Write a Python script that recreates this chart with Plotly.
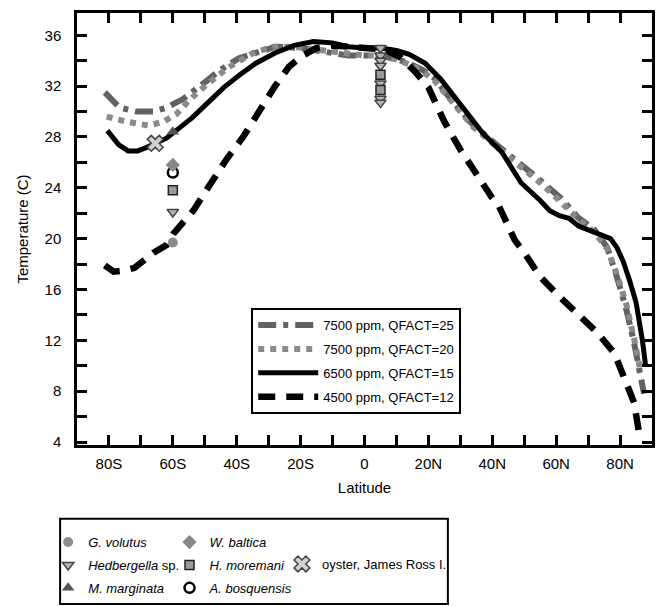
import plotly.graph_objects as go

# ---- model curves (latitude in degrees, south negative) ----
lat_q25 = [-81.3, -76.6, -71.3, -66, -62, -56.7, -50.5, -45.5, -39.3, -31.8, -27.7, -20, -15, -10, -5, 0, 5, 10, 13, 18, 22, 26, 30, 33.4, 40.8, 49, 55, 61.4, 66.7, 72, 76, 79, 82, 84.4, 86, 87.5]
t_q25 = [31.5, 30.3, 30.0, 30.0, 30.3, 31.0, 32.2, 33.2, 34.2, 34.8, 35.1, 35.0, 34.8, 34.6, 34.4, 34.4, 34.4, 34.1, 33.9, 33.3, 32.6, 31.3, 30.2, 29.1, 27.5, 25.9, 24.6, 23.2, 21.7, 20.7, 19.3, 17.0, 14.4, 11.8, 9.7, 7.8]

lat_q20 = [-80.7, -74.5, -67.6, -62.9, -58.9, -54.8, -49.5, -42.4, -34.9, -28.7, -22, -15, -10, -5, 0, 5, 10, 14, 18, 22, 26, 30, 34, 41, 49, 55, 61, 67, 72, 76, 79, 82, 84.5, 86.5]
t_q20 = [29.6, 29.2, 28.9, 29.2, 29.8, 30.9, 32.1, 33.5, 34.6, 35.1, 35.1, 34.9, 34.7, 34.5, 34.4, 34.4, 34.1, 33.7, 33.2, 32.4, 31.2, 30.0, 28.8, 27.3, 25.7, 24.4, 23.0, 21.5, 20.5, 19.2, 17.2, 14.8, 12.0, 9.5]

lat_q15 = [-80.5, -77, -74, -71, -68, -65.5, -62, -59, -54, -49, -44, -39, -34, -28, -22, -16, -10, -5, 0, 5, 10, 14, 19, 24, 28, 32, 37, 43, 49, 55, 58, 61, 64, 67, 70, 72, 74, 77, 79, 81, 83, 85, 87, 88]
t_q15 = [28.5, 27.4, 26.9, 26.9, 27.2, 27.5, 27.9, 28.5, 29.5, 30.7, 31.9, 32.9, 33.8, 34.6, 35.2, 35.5, 35.4, 35.1, 35.0, 35.0, 34.8, 34.5, 33.8, 32.5, 31.2, 30.0, 28.3, 26.8, 24.4, 23.0, 22.2, 21.8, 21.6, 21.0, 20.7, 20.4, 20.3, 20.0, 19.3, 18.2, 16.7, 15.0, 12.0, 10.0]

lat_q12 = [-81.3, -78.5, -75, -72, -69, -66, -62, -59.8, -56, -53.6, -49, -43.3, -38, -33, -28, -23.7, -20, -15, -10, -5, 0, 6, 11, 16, 20, 25, 30, 35, 40, 42, 47, 50, 55, 60.4, 66.7, 72.9, 78.2, 81.3, 84.4, 86.3]
t_q12 = [17.9, 17.4, 17.5, 17.7, 18.3, 18.9, 19.5, 20.4, 21.5, 22.2, 24.0, 26.2, 28.0, 30.1, 32.0, 33.5, 34.3, 35.0, 35.2, 35.1, 35.0, 34.9, 34.3, 33.1, 31.9, 29.2, 27.0, 25.0, 23.2, 22.6, 19.9, 18.9, 17.0, 15.6, 14.1, 12.6, 11.0, 9.1, 7.1, 4.2]

# ---- proxy data ----
gvol_lat = [-60]; gvol_t = [19.7]
hedb_lat = [-60, 5, 5, 5, 5, 5, 5, 5]; hedb_t = [22.1, 35.0, 34.4, 34.0, 33.6, 32.2, 31.0, 30.7]
mmar_lat = [-60]; mmar_t = [28.4]
abos_lat = [-60]; abos_t = [25.2]
wbal_lat = [-60]; wbal_t = [25.8]
hmor_lat = [-60, 5, 5]; hmor_t = [23.8, 32.9, 31.7]
oyst_lat = [-65.5]; oyst_t = [27.5]

x_tickvals = [-80, -70, -60, -50, -40, -30, -20, -10, 0, 10, 20, 30, 40, 50, 60, 70, 80]
x_ticktext = ["80S", "", "60S", "", "40S", "", "20S", "", "0", "", "20N", "", "40N", "", "60N", "", "80N"]
y_tickvals = list(range(4, 37, 2))
y_ticktext = [str(v) if v % 4 == 0 else "" for v in y_tickvals]

FONT = "Liberation Sans, Arial, sans-serif"

fig = go.Figure()

curves = [
    (lat_q25, t_q25, "7500 ppm, QFACT=25", "#626262", 6, "18px,7px,5px,7px", 1),
    (lat_q20, t_q20, "7500 ppm, QFACT=20", "#8a8a8a", 6, "6px,6px", 2),
    (lat_q12, t_q12, "4500 ppm, QFACT=12", "#000000", 6.5, "17px,11px", 4),
    (lat_q15, t_q15, "6500 ppm, QFACT=15", "#000000", 5, "solid", 3),
]
for lx, ty, name, col, w, dash, rank in curves:
    fig.add_trace(go.Scatter(
        x=lx, y=ty, mode="lines", name=name, legend="legend",
        legendgroup=name, legendrank=rank,
        line=dict(color=col, width=w, dash=dash),
    ))

markers = [
    (gvol_lat, gvol_t, "<i>G. volutus</i>", "legend2", 1,
     dict(symbol="circle", size=10, color="#8c8c8c", line=dict(color="#8c8c8c", width=0))),
    (hedb_lat, hedb_t, "<i>Hedbergella</i> sp.", "legend2", 2,
     dict(symbol="triangle-down", size=10, color="#b4b4b4", line=dict(color="#444444", width=1.5))),
    (mmar_lat, mmar_t, "<i>M. marginata</i>", "legend2", 3,
     dict(symbol="triangle-up", size=11, color="#555555", line=dict(color="#555555", width=0))),
    (abos_lat, abos_t, "<i>A. bosquensis</i>", "legend3", 3,
     dict(symbol="circle", size=10, color="#ffffff", line=dict(color="#000000", width=2.5))),
    (wbal_lat, wbal_t, "<i>W. baltica</i>", "legend3", 1,
     dict(symbol="diamond", size=11, color="#888888", line=dict(color="#888888", width=0))),
    (hmor_lat, hmor_t, "<i>H. moremani</i>", "legend3", 2,
     dict(symbol="square", size=9, color="#9a9a9a", line=dict(color="#222222", width=1.5))),
    (oyst_lat, oyst_t, "oyster, James Ross I.", "legend4", 1,
     dict(symbol="x", size=14, color="#d0d0d0", line=dict(color="#444444", width=1.5))),
]
for lx, ty, name, lg, rank, mk in markers:
    fig.add_trace(go.Scatter(
        x=lx, y=ty, mode="markers", name=name, legend=lg,
        legendgroup=name, legendrank=rank, marker=mk,
    ))

axis_common = dict(
    showline=True, linecolor="black", linewidth=2.5, mirror="ticks",
    ticks="inside", ticklen=10, tickwidth=2.5, tickcolor="black",
    showgrid=False, zeroline=False,
    tickfont=dict(family=FONT, size=15, color="black"),
)

fig.update_layout(
    width=657, height=606,
    margin=dict(l=77, r=2, t=13, b=161),
    paper_bgcolor="white", plot_bgcolor="white",
    font=dict(family=FONT, color="black"),
    xaxis=dict(range=[-90, 90], tickmode="array", tickvals=x_tickvals, ticktext=x_ticktext,
               title=dict(text="Latitude", font=dict(family=FONT, size=15), standoff=12),
               ticklabelstandoff=3, **axis_common),
    yaxis=dict(range=[3.77, 37.75], tickmode="array", tickvals=y_tickvals, ticktext=y_ticktext,
               title=dict(text="Temperature (C)", font=dict(family=FONT, size=15), standoff=13),
               ticklabelstandoff=10, **axis_common),
    legend=dict(x=0.303, y=0.317, xanchor="left", yanchor="top",
                bgcolor="white", bordercolor="black", borderwidth=2, itemwidth=60,
                font=dict(family=FONT, size=13), traceorder="grouped", tracegroupgap=4),
    legend2=dict(x=-0.0502, y=-0.19, xanchor="left", yanchor="top",
                 bgcolor="rgba(0,0,0,0)", borderwidth=0,
                 font=dict(family=FONT, size=13), traceorder="grouped", tracegroupgap=3),
    legend3=dict(x=0.1609, y=-0.19, xanchor="left", yanchor="top",
                 bgcolor="rgba(0,0,0,0)", borderwidth=0,
                 font=dict(family=FONT, size=13), traceorder="grouped", tracegroupgap=3),
    legend4=dict(x=0.3564, y=-0.2407, xanchor="left", yanchor="top",
                 bgcolor="rgba(0,0,0,0)", borderwidth=0,
                 font=dict(family=FONT, size=13), traceorder="grouped", tracegroupgap=3),
    shapes=[dict(type="rect", xref="paper", yref="paper",
                 x0=-0.0294, x1=0.645, y0=-0.368, y1=-0.171,
                 line=dict(color="black", width=2), fillcolor="rgba(0,0,0,0)")],
)

fig.write_html("out.html")
